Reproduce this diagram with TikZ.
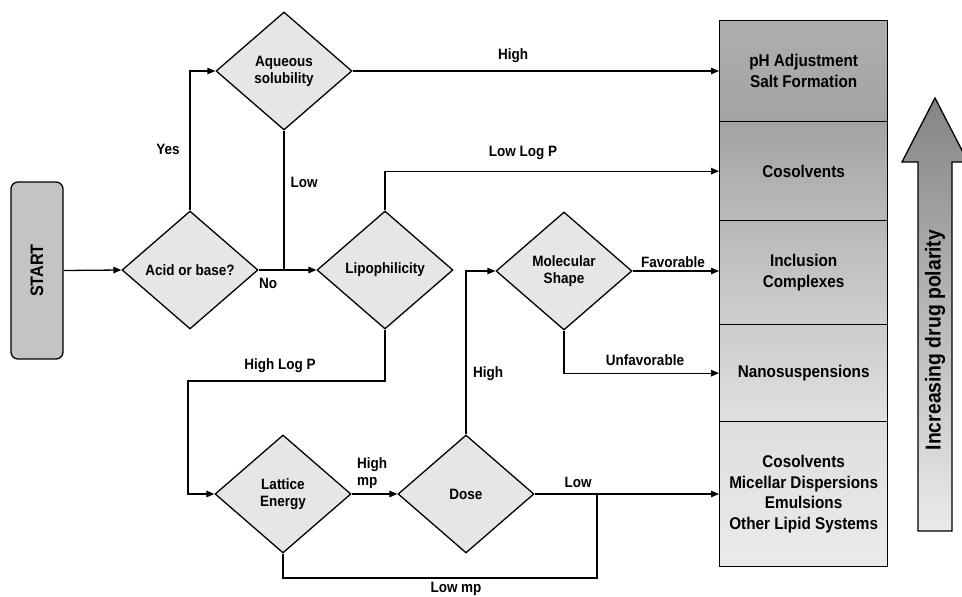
\documentclass[tikz,border=0pt]{standalone}
\usepackage{fontspec}
\setmainfont{Liberation Sans}[FakeStretch=0.9]
\usetikzlibrary{shapes.geometric,arrows.meta}

\definecolor{dfill}{HTML}{E6E6E6}
\definecolor{startfill}{HTML}{C4C4C4}

\tikzset{
  every picture/.style={x=1pt,y=-1pt},
  line/.style={draw=black,line width=1.3pt},
  arr/.style={line,-{Triangle[length=8pt,width=6.5pt]}},
  decision/.style={diamond,draw=black,line width=1.3pt,fill=dfill,
    minimum width=136pt,minimum height=118pt,inner sep=0pt,aspect=1,
    align=center,font=\fontsize{15}{17}\selectfont\bfseries},
  lbl/.style={font=\fontsize{15}{17}\selectfont\bfseries,inner sep=0pt},
  method/.style={rectangle,draw=black,line width=1.3pt,anchor=north west,
    minimum width=168pt,inner sep=0pt,align=center,
    font=\fontsize{17}{20.5}\selectfont\bfseries},
}

\begin{document}
\begin{tikzpicture}
\useasboundingbox (0,0) rectangle (962,597);

% start terminal
\node[draw=black,line width=1.3pt,fill=startfill,rounded corners=7pt,
  minimum width=52pt,minimum height=177pt,inner sep=0pt] (start) at (37,270.5)
  {\rotatebox{90}{\fontsize{18}{20}\selectfont\bfseries START}};

% decisions
\node[decision] (acid) at (190,270) {Acid or base?};
\node[decision] (aq)   at (284,71)  {Aqueous\\solubility};
\node[decision] (lip)  at (385,270) {Lipophilicity};
\node[decision] (mol)  at (564,271) {Molecular\\Shape};
\node[decision] (lat)  at (283,494) {Lattice\\Energy};
\node[decision] (dose) at (466,494) {Dose};

% formulation strategies, darker towards the top
\node[method,minimum height=101pt,top color=gray!85!black!55,bottom color=black!36]
  (ph) at (719,20) {pH Adjustment\\Salt Formation};
\node[method,minimum height=99pt,top color=black!36,bottom color=black!27]
  (cos) at (719,121) {Cosolvents};
\node[method,minimum height=104pt,top color=black!28,bottom color=black!19]
  (incl) at (719,220) {Inclusion\\Complexes};
\node[method,minimum height=97pt,top color=black!20,bottom color=black!12]
  (nano) at (719,324) {Nanosuspensions};
\node[method,minimum height=145pt,top color=black!13,bottom color=black!8]
  (lipid) at (719,421) {Cosolvents\\Micellar Dispersions\\Emulsions\\Other Lipid Systems};

% polarity arrow
\path[draw=black,line width=1.3pt,top color=black!48,bottom color=black!8]
  (918,531) -- (918,162) -- (902,162) -- (935,98) -- (968,162) -- (952,162)
  -- (952,531) -- cycle;
\node[inner sep=0pt,rotate=90] (pol) at (935,340)
  {\fontsize{21.5}{24}\selectfont\bfseries Increasing drug polarity};

% connectors
\draw[arr] (start.east) -- (acid.west);
\draw[arr] (acid.north) |- (aq.west);
\draw[arr] (acid.east) -- (lip.west);
\draw[line] (aq.south) -- (aq.south |- acid.east);
\draw[arr] (aq.east) -- (aq.east -| ph.west);
\draw[arr] (lip.north) |- (cos.west);
\coordinate (hlp) at (188,381);
\draw[arr] (lip.south) |- (hlp) |- (lat.west);
\draw[arr] (lat.east) -- (dose.west);
\draw[arr] (dose.north) |- (mol.west);
\draw[arr] (mol.east) -- (mol.east -| incl.west);
\draw[arr] (mol.south) |- (nano.west);
\draw[arr] (dose.east) -- (dose.east -| lipid.west);
\coordinate (lmp) at (597,578);
\coordinate (join) at (597,494);
\draw[line] (lat.south) |- (lmp) -- (join);

% branch labels
\node[lbl] (lyes)  at (168,149) {Yes};
\node[lbl] (llow1) at (304,182) {Low};
\node[lbl] (lno)   at (268,283) {No};
\node[lbl] (lhigh1) at (513,56) {High};
\node[lbl] (llogp) at (523,153) {Low Log P};
\node[lbl] (lhlogp) at (280,366) {High Log P};
\node[lbl,anchor=west,align=left] (lhmp) at (357,473) {High\\mp};
\node[lbl] (lhigh2) at (488,374) {High};
\node[lbl] (lfav)  at (673,262) {Favorable};
\node[lbl] (lunf)  at (645,360) {Unfavorable};
\node[lbl] (llow2) at (578,482) {Low};
\node[lbl] (llmp)  at (456,589) {Low mp};
\end{tikzpicture}
\end{document}
